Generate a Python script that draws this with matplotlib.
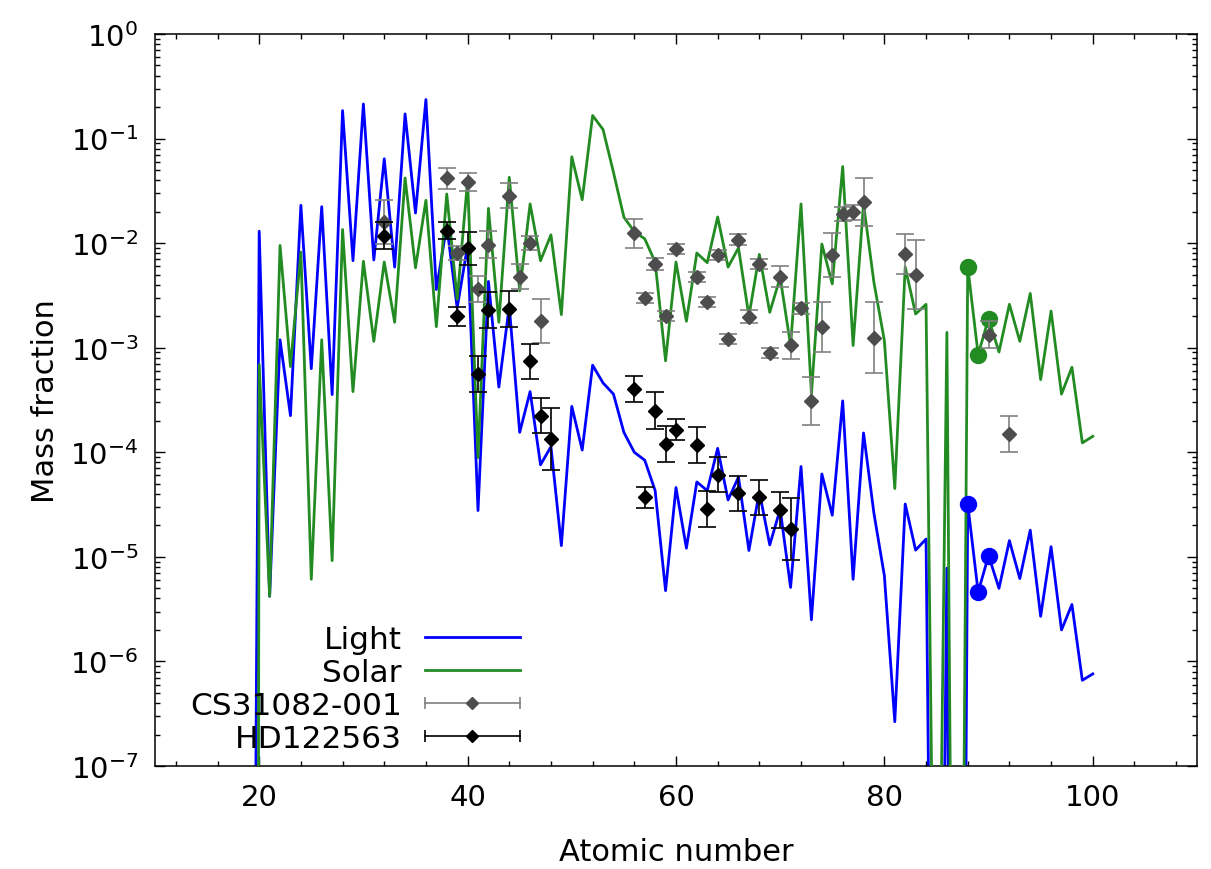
import numpy as np
import matplotlib
matplotlib.use("Agg")
import matplotlib.pyplot as plt
from matplotlib.lines import Line2D
from matplotlib.legend_handler import HandlerLine2D
from matplotlib.ticker import MultipleLocator

# atomic numbers (19 is a dummy point far below the axis, as in the source data)
z = np.arange(19, 101)

light = [
    1e-18,
    1.3e-2, 4.2e-6, 1.19e-3, 2.24e-4, 2.3e-2, 6.3e-4, 2.23e-2, 3.56e-4, 1.85e-1, 6.8e-3,
    2.14e-1, 6.9e-3, 6.4e-2, 5.9e-3, 1.72e-1, 1.94e-2, 2.36e-1, 3.6e-3, 1.47e-2, 2.4e-3,
    9.5e-3, 2.77e-5, 4.3e-3, 4.2e-4, 2.5e-3, 1.55e-4, 3.8e-4, 7.6e-5, 1.13e-4, 1.28e-5,
    2.75e-4, 1.05e-4, 6.8e-4, 4.6e-4, 3.6e-4, 1.55e-4, 1.0e-4, 8.4e-5, 4.3e-5, 4.75e-6,
    4.6e-5, 1.21e-5, 5.2e-5, 4.3e-5, 1.09e-4, 3.5e-5, 5.8e-5, 1.15e-5, 4.2e-5, 1.3e-5,
    2.85e-5, 5.1e-6, 7.3e-5, 2.5e-6, 6.2e-5, 2.5e-5, 3.1e-4, 6.1e-6, 1.53e-4, 2.6e-5,
    6.6e-6, 2.65e-7, 3.2e-5, 1.16e-5, 1.48e-5, 3e-15, 7.8e-6, 1e-20, 3.2e-5, 4.6e-6,
    1.03e-5, 5.0e-6, 1.43e-5, 6.2e-6, 1.8e-5, 2.7e-6, 1.25e-5, 2.0e-6, 3.5e-6, 6.6e-7,
    7.6e-7]

solar = [
    1e-60,
    6.9e-4, 4.2e-6, 9.5e-3, 6.6e-4, 8.2e-3, 6.1e-6, 1.19e-3, 9.2e-6, 1.35e-2, 3.8e-4,
    6.7e-3, 1.15e-3, 6.6e-3, 1.75e-3, 4.2e-2, 5.8e-3, 2.57e-2, 1.59e-3, 2.95e-2, 2.9e-3,
    3.96e-2, 8.9e-5, 2.15e-2, 1.75e-3, 4.26e-2, 3.5e-3, 2.37e-2, 6.8e-3, 1.2e-2, 2.07e-3,
    6.7e-2, 2.6e-2, 1.66e-1, 1.22e-1, 4.75e-2, 1.77e-2, 1.29e-2, 1.1e-2, 6.6e-3, 7.5e-4,
    6.6e-3, 1.79e-3, 8.05e-3, 6.5e-3, 1.78e-2, 5.9e-3, 9.0e-3, 2.0e-3, 7.8e-3, 2.18e-3,
    4.7e-3, 1.05e-3, 2.37e-2, 3.6e-4, 9.8e-3, 4.07e-3, 5.4e-2, 1.05e-3, 2.37e-2, 4.2e-3,
    1.17e-3, 4.5e-5, 5.9e-3, 2.1e-3, 2.6e-3, 1e-11, 1.4e-3, 1e-16, 5.96e-3, 8.6e-4,
    1.9e-3, 9.1e-4, 2.6e-3, 1.15e-3, 3.3e-3, 4.95e-4, 2.24e-3, 3.6e-4, 6.5e-4, 1.23e-4,
    1.42e-4]

# Ra, Ac, Th highlighted
circ_z = [88, 89, 90]
light_circ = [3.2e-5, 4.6e-6, 1.03e-5]
solar_circ = [5.96e-3, 8.6e-4, 1.9e-3]

# CS31082-001: Z, mass fraction, error (dex)
cs_z = [32, 38, 39, 40, 41, 42, 44, 45, 46, 47, 56, 57, 58, 59, 60, 62, 63, 64, 65,
        66, 67, 68, 69, 70, 71, 72, 73, 74, 75, 76, 77, 78, 79, 82, 83, 90, 92]
cs_y = [1.58e-2, 4.15e-2, 8.05e-3, 3.87e-2, 3.64e-3, 9.7e-3, 2.84e-2, 4.75e-3, 1.0e-2,
        1.8e-3, 1.24e-2, 3.0e-3, 6.3e-3, 2.02e-3, 8.8e-3, 4.75e-3, 2.72e-3, 7.7e-3,
        1.21e-3, 1.08e-2, 1.98e-3, 6.3e-3, 8.9e-4, 4.78e-3, 1.05e-3, 2.38e-3, 3.1e-4,
        1.57e-3, 7.7e-3, 1.9e-2, 1.97e-2, 2.49e-2, 1.24e-3, 7.9e-3, 4.96e-3, 1.33e-3, 1.5e-4]
cs_err = [0.21, 0.10, 0.07, 0.085, 0.12, 0.13, 0.12, 0.12, 0.065, 0.21, 0.14, 0.05,
          0.055, 0.05, 0.05, 0.05, 0.05, 0.045, 0.05, 0.05, 0.06, 0.05, 0.05, 0.10, 0.13,
          0.05, 0.23, 0.24, 0.21, 0.07, 0.07, 0.23, 0.34, 0.19, 0.33, 0.13, 0.17]

# HD122563
hd_z = [32, 38, 39, 40, 41, 42, 44, 46, 47, 48, 56, 57, 58, 59, 60, 62, 63, 64, 66, 68, 70, 71]
hd_y = [1.18e-2, 1.32e-2, 2.0e-3, 8.9e-3, 5.6e-4, 2.3e-3, 2.35e-3, 7.4e-4, 2.24e-4,
        1.34e-4, 4.03e-4, 3.7e-5, 2.5e-4, 1.2e-4, 1.64e-4, 1.17e-4, 2.87e-5, 6.1e-5,
        4.05e-5, 3.7e-5, 2.8e-5, 1.85e-5]
hd_err = [0.13, 0.08, 0.09, 0.16, 0.17, 0.17, 0.17, 0.17, 0.17, 0.30, 0.12, 0.10,
          0.18, 0.17, 0.10, 0.17, 0.17, 0.17, 0.17, 0.17, 0.17, 0.30]

plt.rcParams['font.family'] = 'DejaVu Sans'
plt.rcParams['font.size'] = 21

fig = plt.figure(figsize=(12.11, 8.70), dpi=100)
ax = fig.add_axes([0.128, 0.1184, 0.8604, 0.8414])

blue = '#0000ff'
green = '#228b22'
grey = '#4d4d4d'
bar_grey = '#808080'

ax.plot(z, light, color=blue, lw=2, zorder=2)
ax.plot(z, solar, color=green, lw=2, zorder=3)
ax.plot(circ_z, light_circ, 'o', color=blue, ms=11.5, zorder=4)
ax.plot(circ_z, solar_circ, 'o', color=green, ms=11.5, zorder=4)


def errs(y, d):
    y = np.array(y)
    d = np.array(d)
    return [y - y * 10 ** (-d), y * 10 ** d - y]


ax.errorbar(cs_z, cs_y, yerr=errs(cs_y, cs_err), fmt='D', color=grey, ms=7,
            ecolor=bar_grey, elinewidth=1.2, capsize=6.5, capthick=1.2, zorder=5)
ax.errorbar(hd_z, hd_y, yerr=errs(hd_y, hd_err), fmt='D', color='black', ms=7,
            ecolor='black', elinewidth=1.2, capsize=6.5, capthick=1.2, zorder=6)

ax.set_yscale('log')
ax.set_xlim(10, 110)
ax.set_ylim(1e-7, 1)
ax.xaxis.set_major_locator(MultipleLocator(20))
ax.xaxis.set_minor_locator(MultipleLocator(4))
decades = 10.0 ** np.arange(-7, 1)
ax.set_yticks(decades)
ax.set_yticks([d * m for d in decades[:-1] for m in range(2, 10)], minor=True)
ax.yaxis.set_minor_formatter(plt.NullFormatter())
ax.tick_params(which='both', direction='in', top=True, right=True, width=1)
ax.tick_params(which='major', length=7, pad=12)
ax.tick_params(which='minor', length=3.5)
for s in ax.spines.values():
    s.set_linewidth(1.1)

ax.set_xlabel('Atomic number', fontsize=22, labelpad=19)
ax.set_ylabel('Mass fraction', fontsize=22, labelpad=7)

# legend in gnuplot style: text right-aligned, sample on the right
h_light = Line2D([], [], color=blue, lw=2)
h_solar = Line2D([], [], color=green, lw=2)
cs_bar = Line2D([], [], color=bar_grey, lw=1.2, marker='|', ms=8, mew=1.2)
cs_pt = Line2D([], [], ls='none', marker='D', color=grey, ms=6.5)
hd_bar = Line2D([], [], color='black', lw=1.2, marker='|', ms=8, mew=1.2)
hd_pt = Line2D([], [], ls='none', marker='D', color='black', ms=6.5)
hmap = {cs_bar: HandlerLine2D(numpoints=2, marker_pad=0),
        hd_bar: HandlerLine2D(numpoints=2, marker_pad=0)}
ax.legend([h_light, h_solar, (cs_bar, cs_pt), (hd_bar, hd_pt)],
          ['Light', 'Solar', 'CS31082-001', 'HD122563'],
          handler_map=hmap, loc='lower right', bbox_to_anchor=(0.3628, 0.0),
          frameon=False, markerfirst=False, fontsize=22.5, handlelength=3.04,
          handletextpad=0.74, labelspacing=0.13, borderaxespad=0, borderpad=0.42)

fig.savefig('out.png', dpi=100)
